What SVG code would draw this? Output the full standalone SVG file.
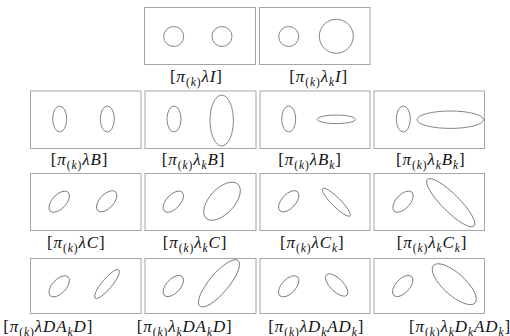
<svg xmlns="http://www.w3.org/2000/svg" width="510" height="336" viewBox="0 0 510 336">
<style>
.box{fill:#fff;stroke:#a6a6a6;stroke-width:1}
.e{fill:none;stroke:#666;stroke-width:0.8}
.lbl{font-family:"Liberation Serif",serif;font-size:17px;fill:#111;letter-spacing:0.9px}
.i{font-style:italic}
.s{font-size:11.5px}
</style>
<rect width="510" height="336" fill="#fff"/>
<!-- Row 1 -->
<g id="p-lI">
<rect class="box" x="144.5" y="7.5" width="111" height="57"/>
<circle class="e" cx="173.7" cy="36.5" r="10"/>
<circle class="e" cx="222" cy="36.5" r="10"/>
<text class="lbl" x="170" y="82">[<tspan class="i">π</tspan><tspan class="s" dy="3.5">(<tspan class="i">k</tspan>)</tspan><tspan class="i" dy="-3.5">λI</tspan>]</text>
</g>
<g id="p-lkI">
<rect class="box" x="259.5" y="7.5" width="110.5" height="57"/>
<circle class="e" cx="288.7" cy="36.5" r="10"/>
<circle class="e" cx="336.3" cy="36.3" r="17"/>
<text class="lbl" x="289.3" y="82">[<tspan class="i">π</tspan><tspan class="s" dy="3.5">(<tspan class="i">k</tspan>)</tspan><tspan class="i" dy="-3.5">λ</tspan><tspan class="s i" dy="3.5">k</tspan><tspan class="i" dy="-3.5">I</tspan>]</text>
</g>
<!-- Row 2 -->
<g id="p-lB">
<rect class="box" x="30.5" y="91" width="110.5" height="57.5"/>
<ellipse class="e" cx="59.7" cy="119" rx="7" ry="13"/>
<ellipse class="e" cx="107.3" cy="119" rx="7" ry="13"/>
<text class="lbl" x="50.7" y="165">[<tspan class="i">π</tspan><tspan class="s" dy="3.5">(<tspan class="i">k</tspan>)</tspan><tspan class="i" dy="-3.5">λB</tspan>]</text>
</g>
<g id="p-lkB">
<rect class="box" x="145" y="91" width="111" height="57.5"/>
<ellipse class="e" cx="174" cy="119" rx="7" ry="13"/>
<ellipse class="e" cx="221.7" cy="120.5" rx="11.7" ry="25.5"/>
<text class="lbl" x="161.7" y="165">[<tspan class="i">π</tspan><tspan class="s" dy="3.5">(<tspan class="i">k</tspan>)</tspan><tspan class="i" dy="-3.5">λ</tspan><tspan class="s i" dy="3.5">k</tspan><tspan class="i" dy="-3.5">B</tspan>]</text>
</g>
<g id="p-lBk">
<rect class="box" x="260" y="91" width="110" height="57.5"/>
<ellipse class="e" cx="288.7" cy="119" rx="7" ry="13"/>
<ellipse class="e" cx="336.3" cy="119.3" rx="19.3" ry="4.3"/>
<text class="lbl" x="278.3" y="165">[<tspan class="i">π</tspan><tspan class="s" dy="3.5">(<tspan class="i">k</tspan>)</tspan><tspan class="i" dy="-3.5">λB</tspan><tspan class="s i" dy="3.5">k</tspan><tspan dy="-3.5">]</tspan></text>
</g>
<g id="p-lkBk">
<rect class="box" x="374" y="91" width="110.5" height="57.5"/>
<ellipse class="e" cx="403.3" cy="119" rx="7" ry="13"/>
<ellipse class="e" cx="450.3" cy="119.7" rx="33.3" ry="8.7"/>
<text class="lbl" x="396" y="165">[<tspan class="i">π</tspan><tspan class="s" dy="3.5">(<tspan class="i">k</tspan>)</tspan><tspan class="i" dy="-3.5">λ</tspan><tspan class="s i" dy="3.5">k</tspan><tspan class="i" dy="-3.5">B</tspan><tspan class="s i" dy="3.5">k</tspan><tspan dy="-3.5">]</tspan></text>
</g>
<!-- Row 3 -->
<g id="p-lC">
<rect class="box" x="30.5" y="173.5" width="110.5" height="57"/>
<ellipse class="e" cx="59.2" cy="201.7" rx="13" ry="7" transform="rotate(-47 59.2 201.7)"/>
<ellipse class="e" cx="106.7" cy="201.3" rx="13" ry="7" transform="rotate(-47 106.7 201.3)"/>
<text class="lbl" x="47" y="248">[<tspan class="i">π</tspan><tspan class="s" dy="3.5">(<tspan class="i">k</tspan>)</tspan><tspan class="i" dy="-3.5">λC</tspan>]</text>
</g>
<g id="p-lkC">
<rect class="box" x="145" y="173.5" width="111" height="57"/>
<ellipse class="e" cx="173.3" cy="201.7" rx="13" ry="7" transform="rotate(-47 173.3 201.7)"/>
<ellipse class="e" cx="222" cy="201.2" rx="23.3" ry="12.5" transform="rotate(-47 222 201.2)"/>
<text class="lbl" x="162.7" y="248">[<tspan class="i">π</tspan><tspan class="s" dy="3.5">(<tspan class="i">k</tspan>)</tspan><tspan class="i" dy="-3.5">λ</tspan><tspan class="s i" dy="3.5">k</tspan><tspan class="i" dy="-3.5">C</tspan>]</text>
</g>
<g id="p-lCk">
<rect class="box" x="260" y="173.5" width="110" height="57"/>
<ellipse class="e" cx="288.7" cy="201.3" rx="13" ry="7" transform="rotate(-47 288.7 201.3)"/>
<ellipse class="e" cx="336.3" cy="202.2" rx="19.3" ry="4.5" transform="rotate(45 336.3 202.2)"/>
<text class="lbl" x="280" y="248">[<tspan class="i">π</tspan><tspan class="s" dy="3.5">(<tspan class="i">k</tspan>)</tspan><tspan class="i" dy="-3.5">λC</tspan><tspan class="s i" dy="3.5">k</tspan><tspan dy="-3.5">]</tspan></text>
</g>
<g id="p-lkCk">
<rect class="box" x="374" y="173.5" width="110.5" height="57"/>
<ellipse class="e" cx="403" cy="201.7" rx="13" ry="7" transform="rotate(-47 403 201.7)"/>
<ellipse class="e" cx="450.7" cy="202.7" rx="33" ry="8.7" transform="rotate(45 450.7 202.7)"/>
<text class="lbl" x="396.7" y="248">[<tspan class="i">π</tspan><tspan class="s" dy="3.5">(<tspan class="i">k</tspan>)</tspan><tspan class="i" dy="-3.5">λ</tspan><tspan class="s i" dy="3.5">k</tspan><tspan class="i" dy="-3.5">C</tspan><tspan class="s i" dy="3.5">k</tspan><tspan dy="-3.5">]</tspan></text>
</g>
<!-- Row 4 -->
<g id="p-lDAkD">
<rect class="box" x="30.5" y="258.5" width="110.5" height="55"/>
<ellipse class="e" cx="59.2" cy="286.3" rx="13" ry="7" transform="rotate(-47 59.2 286.3)"/>
<ellipse class="e" cx="107" cy="284" rx="18.4" ry="5" transform="rotate(-50 107 284)"/>
<text class="lbl" x="3.3" y="332">[<tspan class="i">π</tspan><tspan class="s" dy="3.5">(<tspan class="i">k</tspan>)</tspan><tspan class="i" dy="-3.5">λDA</tspan><tspan class="s i" dy="3.5">k</tspan><tspan class="i" dy="-3.5">D</tspan>]</text>
</g>
<g id="p-lkDAkD">
<rect class="box" x="145" y="258.5" width="111" height="55"/>
<ellipse class="e" cx="173.3" cy="286" rx="13" ry="7" transform="rotate(-47 173.3 286)"/>
<ellipse class="e" cx="219" cy="283.3" rx="29.8" ry="9.7" transform="rotate(-50 219 283.3)"/>
<text class="lbl" x="136.7" y="332">[<tspan class="i">π</tspan><tspan class="s" dy="3.5">(<tspan class="i">k</tspan>)</tspan><tspan class="i" dy="-3.5">λ</tspan><tspan class="s i" dy="3.5">k</tspan><tspan class="i" dy="-3.5">DA</tspan><tspan class="s i" dy="3.5">k</tspan><tspan class="i" dy="-3.5">D</tspan>]</text>
</g>
<g id="p-lDkADk">
<rect class="box" x="260" y="258.5" width="110" height="55"/>
<ellipse class="e" cx="288.7" cy="286.3" rx="13" ry="7" transform="rotate(-47 288.7 286.3)"/>
<ellipse class="e" cx="336.7" cy="285" rx="14.5" ry="6.5" transform="rotate(45 336.7 285)"/>
<text class="lbl" x="268.3" y="332">[<tspan class="i">π</tspan><tspan class="s" dy="3.5">(<tspan class="i">k</tspan>)</tspan><tspan class="i" dy="-3.5">λD</tspan><tspan class="s i" dy="3.5">k</tspan><tspan class="i" dy="-3.5">AD</tspan><tspan class="s i" dy="3.5">k</tspan><tspan dy="-3.5">]</tspan></text>
</g>
<g id="p-lkDkADk">
<rect class="box" x="374" y="258.5" width="110.5" height="55"/>
<ellipse class="e" cx="402.7" cy="286" rx="13" ry="7" transform="rotate(-47 402.7 286)"/>
<ellipse class="e" cx="454.3" cy="284.2" rx="28" ry="11" transform="rotate(42 454.3 284.2)"/>
<text class="lbl" x="409" y="332">[<tspan class="i">π</tspan><tspan class="s" dy="3.5">(<tspan class="i">k</tspan>)</tspan><tspan class="i" dy="-3.5">λ</tspan><tspan class="s i" dy="3.5">k</tspan><tspan class="i" dy="-3.5">D</tspan><tspan class="s i" dy="3.5">k</tspan><tspan class="i" dy="-3.5">AD</tspan><tspan class="s i" dy="3.5">k</tspan><tspan dy="-3.5">]</tspan></text>
</g>
</svg>
